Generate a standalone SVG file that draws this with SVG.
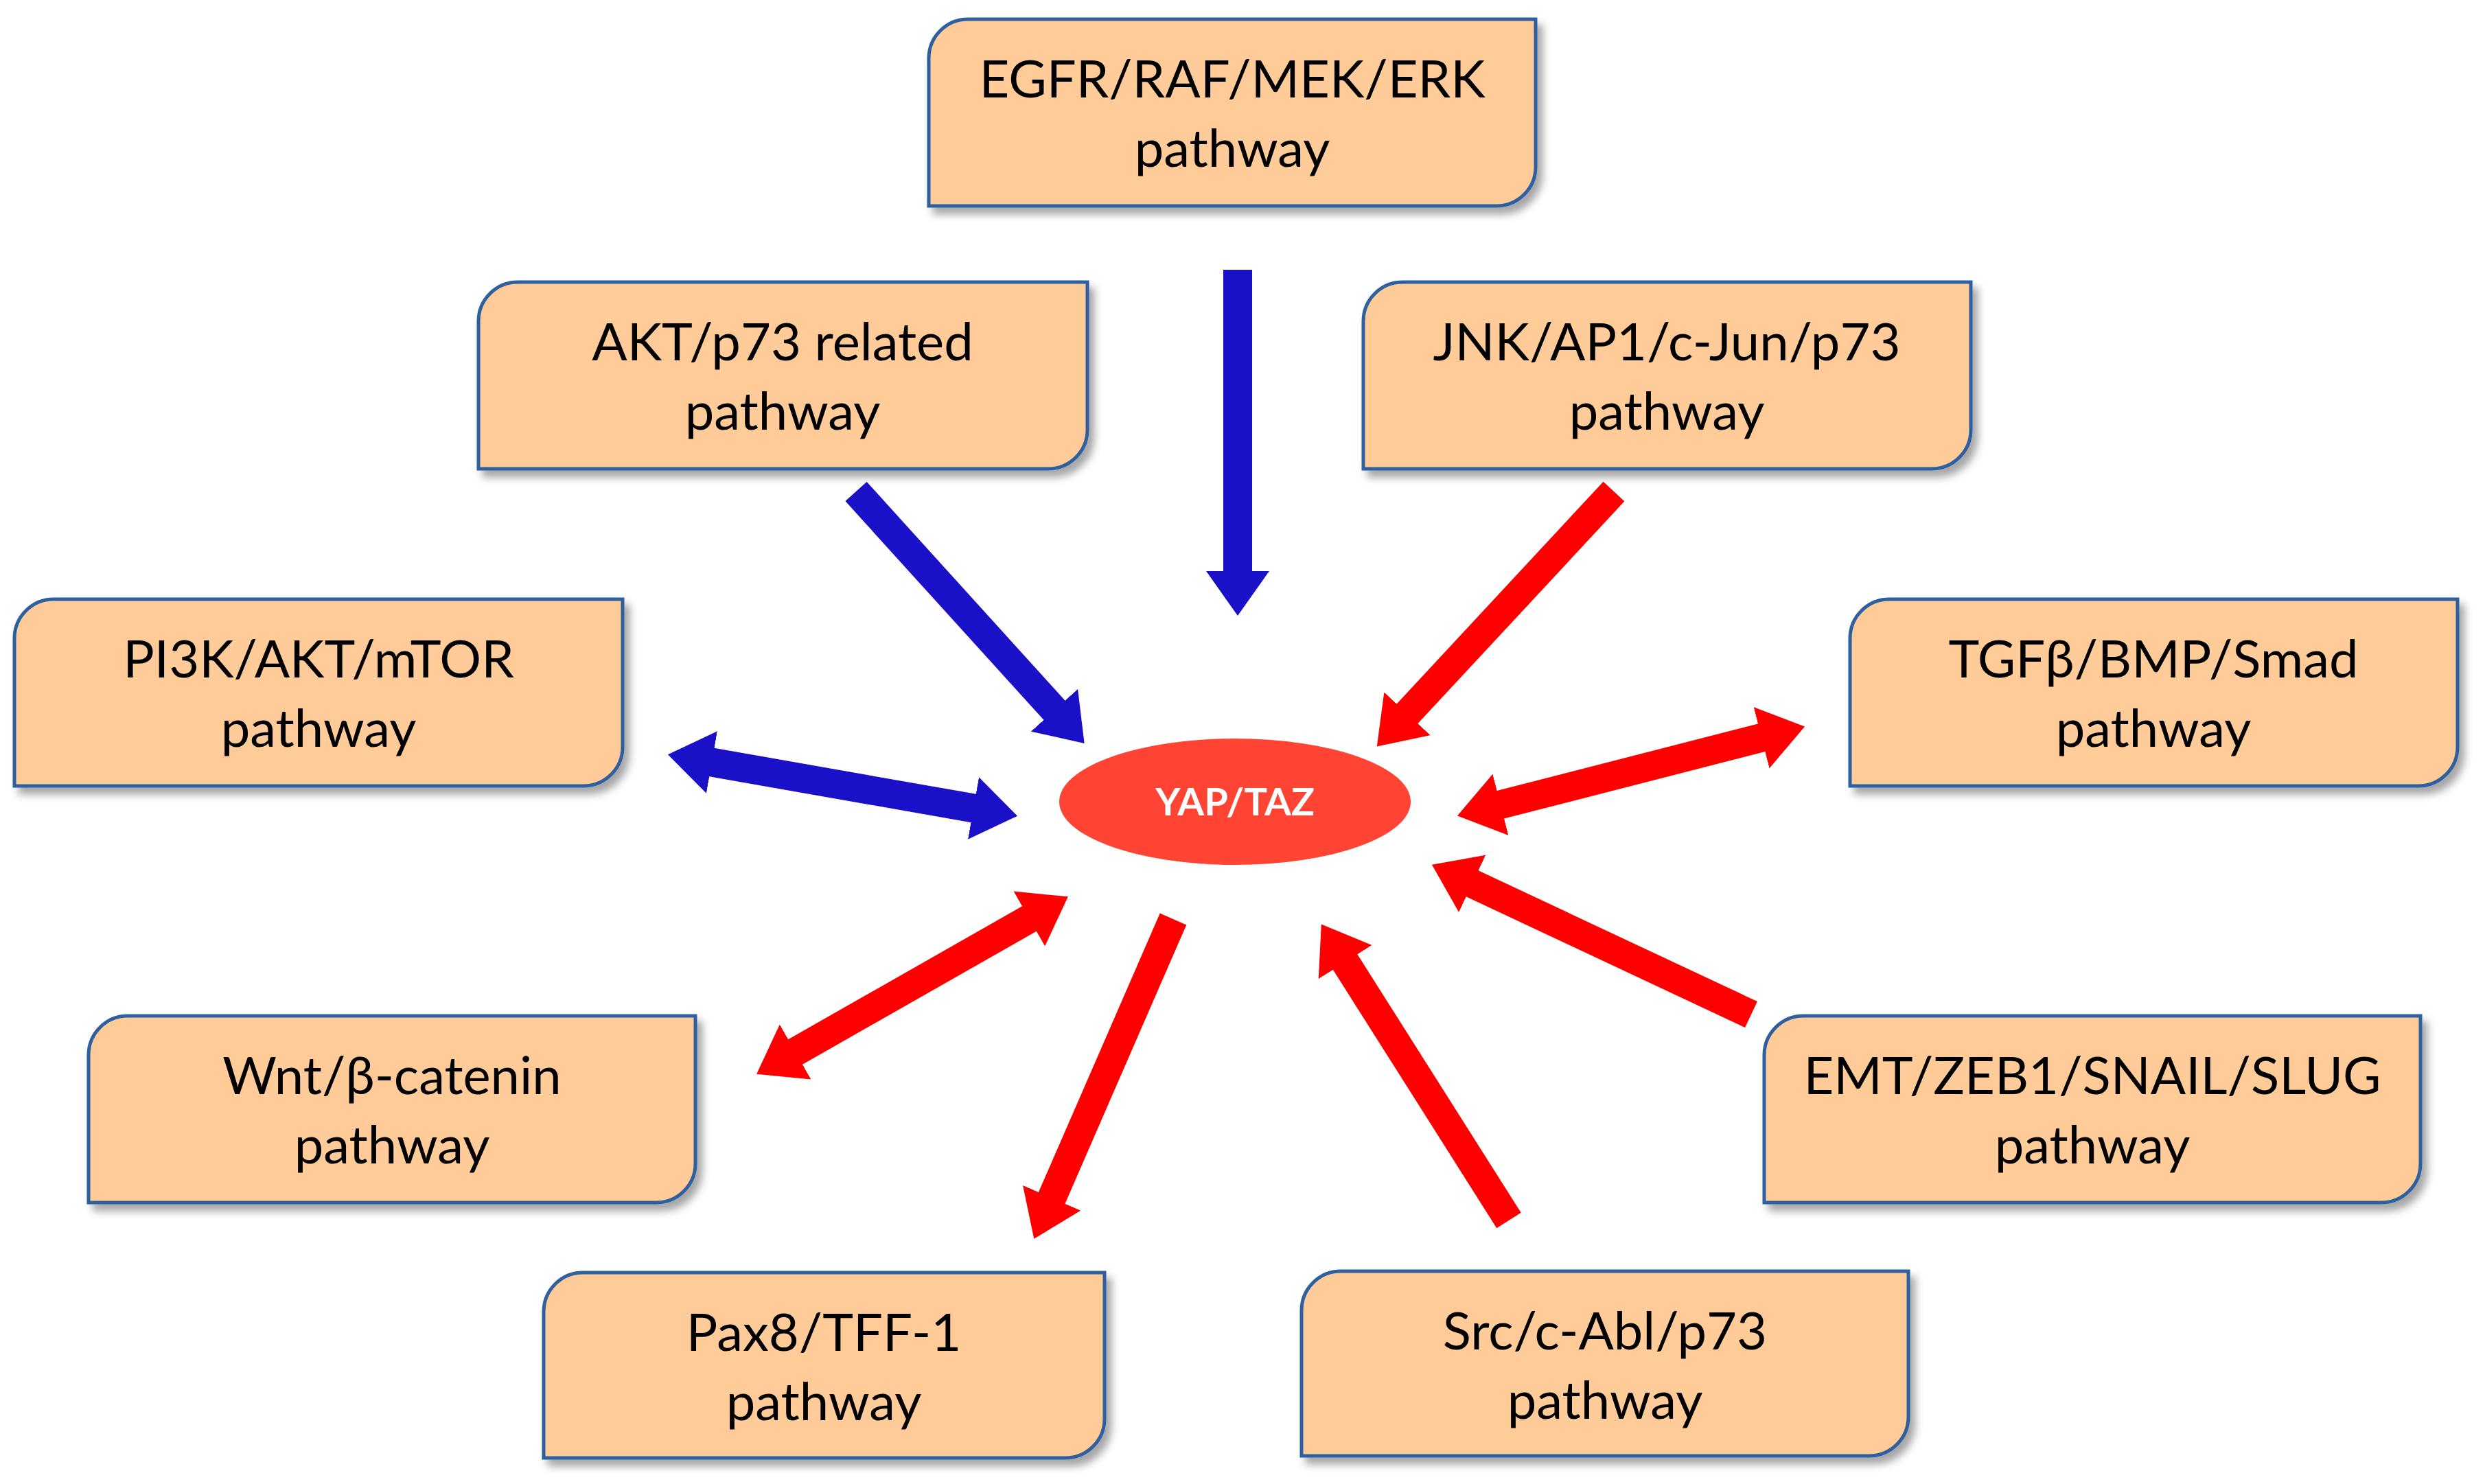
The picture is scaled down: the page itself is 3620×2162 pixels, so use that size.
<svg xmlns="http://www.w3.org/2000/svg" width="3620" height="2162" viewBox="0 0 3620 2162">
<style>
.box{fill:#ffcc99;stroke:#2e5f9e;stroke-width:5;filter:url(#sh)}
.t{font-family:Lato,"Liberation Sans",sans-serif;font-size:76px;fill:#000;text-anchor:middle}
.b{stroke:#1a10c8;stroke-width:42;fill:none}
.r{stroke:#ff0000;stroke-width:42;fill:none}
</style>
<defs>
<filter id="sh" x="-5%" y="-5%" width="115%" height="125%"><feDropShadow dx="8" dy="10" stdDeviation="6" flood-color="#000" flood-opacity="0.35"/></filter>
<marker id="hb" markerUnits="userSpaceOnUse" viewBox="0 0 65 92" markerWidth="65" markerHeight="92" refX="3" refY="46" orient="auto-start-reverse"><path d="M0,0 L65,46 L0,92 z" fill="#1a10c8"/></marker>
<marker id="hr" markerUnits="userSpaceOnUse" viewBox="0 0 65 92" markerWidth="65" markerHeight="92" refX="3" refY="46" orient="auto-start-reverse"><path d="M0,0 L65,46 L0,92 z" fill="#ff0000"/></marker>
</defs>
<rect width="3620" height="2162" fill="#fff"/>
<g id="connectors">
<line class="b" x1="1803" y1="393" x2="1803" y2="835" marker-end="url(#hb)"/>
<line class="b" x1="1247" y1="716" x2="1538" y2="1037" marker-end="url(#hb)"/>
<line class="b" x1="1034" y1="1110" x2="1421" y2="1178" marker-start="url(#hb)" marker-end="url(#hb)"/>
<line class="r" x1="2351" y1="716" x2="2048" y2="1042" marker-end="url(#hr)"/>
<line class="r" x1="2183" y1="1173" x2="2569" y2="1074" marker-start="url(#hr)" marker-end="url(#hr)"/>
<line class="r" x1="2551" y1="1478" x2="2142" y2="1286" marker-end="url(#hr)"/>
<line class="r" x1="1502" y1="1337" x2="1156" y2="1534" marker-start="url(#hr)" marker-end="url(#hr)"/>
<line class="r" x1="1709" y1="1339" x2="1531" y2="1748" marker-end="url(#hr)"/>
<line class="r" x1="2198" y1="1778" x2="1958" y2="1399" marker-end="url(#hr)"/>
</g>
<g id="egfr"><path class="box" d="M1410,28 H2237 V243 A57,57 0 0 1 2180,300 H1353 V85 A57,57 0 0 1 1410,28 Z"/><text class="t" x="1795" y="142">EGFR/RAF/MEK/ERK</text><text class="t" x="1795" y="243">pathway</text></g>
<g id="akt"><path class="box" d="M754,411 H1584 V626 A57,57 0 0 1 1527,683 H697 V468 A57,57 0 0 1 754,411 Z"/><text class="t" x="1140" y="525">AKT/p73 related</text><text class="t" x="1140" y="626">pathway</text></g>
<g id="jnk"><path class="box" d="M2043,411 H2871 V626 A57,57 0 0 1 2814,683 H1986 V468 A57,57 0 0 1 2043,411 Z"/><text class="t" x="2428" y="525">JNK/AP1/c-Jun/p73</text><text class="t" x="2428" y="626">pathway</text></g>
<g id="pi3k"><path class="box" d="M78,873 H907 V1088 A57,57 0 0 1 850,1145 H21 V930 A57,57 0 0 1 78,873 Z"/><text class="t" x="464" y="987">PI3K/AKT/mTOR</text><text class="t" x="464" y="1088">pathway</text></g>
<g id="tgfb"><path class="box" d="M2752,873 H3580 V1088 A57,57 0 0 1 3523,1145 H2695 V930 A57,57 0 0 1 2752,873 Z"/><text class="t" x="3137" y="987">TGFβ/BMP/Smad</text><text class="t" x="3137" y="1088">pathway</text></g>
<g id="wnt"><path class="box" d="M186,1480 H1013 V1695 A57,57 0 0 1 956,1752 H129 V1537 A57,57 0 0 1 186,1480 Z"/><text class="t" x="571" y="1594">Wnt/β-catenin</text><text class="t" x="571" y="1695">pathway</text></g>
<g id="emt"><path class="box" d="M2627,1480 H3526 V1695 A57,57 0 0 1 3469,1752 H2570 V1537 A57,57 0 0 1 2627,1480 Z"/><text class="t" x="3048" y="1594">EMT/ZEB1/SNAIL/SLUG</text><text class="t" x="3048" y="1695">pathway</text></g>
<g id="pax8"><path class="box" d="M849,1854 H1609 V2067 A57,57 0 0 1 1552,2124 H792 V1911 A57,57 0 0 1 849,1854 Z"/><text class="t" x="1200" y="1968">Pax8/TFF-1</text><text class="t" x="1200" y="2069">pathway</text></g>
<g id="src"><path class="box" d="M1953,1852 H2780 V2064 A57,57 0 0 1 2723,2121 H1896 V1909 A57,57 0 0 1 1953,1852 Z"/><text class="t" x="2338" y="1966">Src/c-Abl/p73</text><text class="t" x="2338" y="2067">pathway</text></g>
<g id="yaptaz"><ellipse cx="1799" cy="1168" rx="256" ry="92" fill="#ff4433"/><text x="1799" y="1188" font-family="Lato,'Liberation Sans',sans-serif" font-weight="bold" font-size="56" fill="#fff" text-anchor="middle">YAP/TAZ</text></g>
</svg>
